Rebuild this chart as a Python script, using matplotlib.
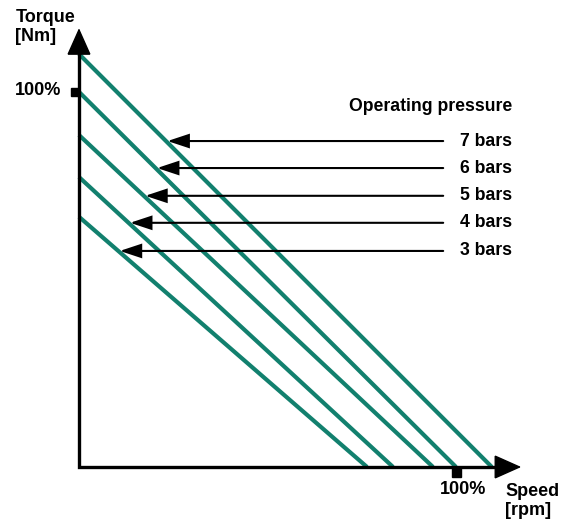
import matplotlib.pyplot as plt
from matplotlib.patches import Rectangle

# torque/speed characteristic per operating pressure (in % of nominal)
pressures = ['3 bars', '4 bars', '5 bars', '6 bars', '7 bars']
torque_at_stall = [66.7, 77.3, 88.5, 100.0, 110.1]
speed_at_no_load = [76.4, 83.3, 93.9, 100.0, 109.5]
arrow_levels = [57.6, 65.1, 72.3, 79.7, 86.9]

GREEN = '#12806e'
plt.rcParams['font.family'] = ['Liberation Sans', 'DejaVu Sans']

fig = plt.figure(figsize=(5.68, 5.23), dpi=100)
ax = fig.add_axes([0, 0, 1, 1])
ax.set_xlim(-20.95, 129.7)
ax.set_ylim(-14.93, 124.5)
ax.axis('off')

# characteristic lines
for t0, s0 in zip(torque_at_stall, speed_at_no_load):
    ax.plot([0, s0], [t0, 0], color=GREEN, lw=3.0, solid_capstyle='butt', zorder=2)

# axes with arrow heads
ax.plot([0, 0, 112], [112, 0, 0], color='black', lw=2.4,
        solid_joinstyle='miter', solid_capstyle='butt', zorder=3)
axis_style = dict(arrowstyle='-|>,head_length=1.75,head_width=0.78', color='black',
                  lw=1.0, mutation_scale=10, shrinkA=0, shrinkB=0, joinstyle='miter')
ax.annotate('', xy=(0, 117.0), xytext=(0, 100), arrowprops=axis_style, zorder=3)
ax.annotate('', xy=(117.3, 0), xytext=(100, 0), arrowprops=axis_style, zorder=3)

# 100% ticks
ax.add_patch(Rectangle((-2.2, 98.9), 2.2, 2.2, color='black', zorder=4))
ax.add_patch(Rectangle((98.9, -2.7), 2.4, 2.7, color='black', zorder=4))

# pressure arrows and labels
tail_x = 96.6
label_x = 114.9
arrow_style = dict(arrowstyle='-|>,head_length=1.3,head_width=0.43', color='black',
                   lw=1.5, mutation_scale=10, shrinkA=0, shrinkB=0, joinstyle='miter')
for name, t0, s0, y in zip(pressures, torque_at_stall, speed_at_no_load, arrow_levels):
    tip_x = s0 * (1 - y / t0) + 0.4
    ax.annotate('', xy=(tip_x, y), xytext=(tail_x, y), arrowprops=arrow_style, zorder=5)
    ax.text(label_x, y, name, ha='right', va='center', fontsize=12.7, fontweight='bold')

ax.text(label_x, 96.0, 'Operating pressure', ha='right', va='center',
        fontsize=12.7, fontweight='bold')

ax.text(-16.9, 122.2, 'Torque\n[Nm]', ha='left', va='top', fontsize=13,
        fontweight='bold', linespacing=1.15)
ax.text(-4.8, 100.5, '100%', ha='right', va='center', fontsize=13, fontweight='bold')
ax.text(108.0, -5.9, '100%', ha='right', va='center', fontsize=13, fontweight='bold')
ax.text(113.0, -4.3, 'Speed\n[rpm]', ha='left', va='top', fontsize=13,
        fontweight='bold', linespacing=1.15)

fig.savefig('out.png', dpi=100)
